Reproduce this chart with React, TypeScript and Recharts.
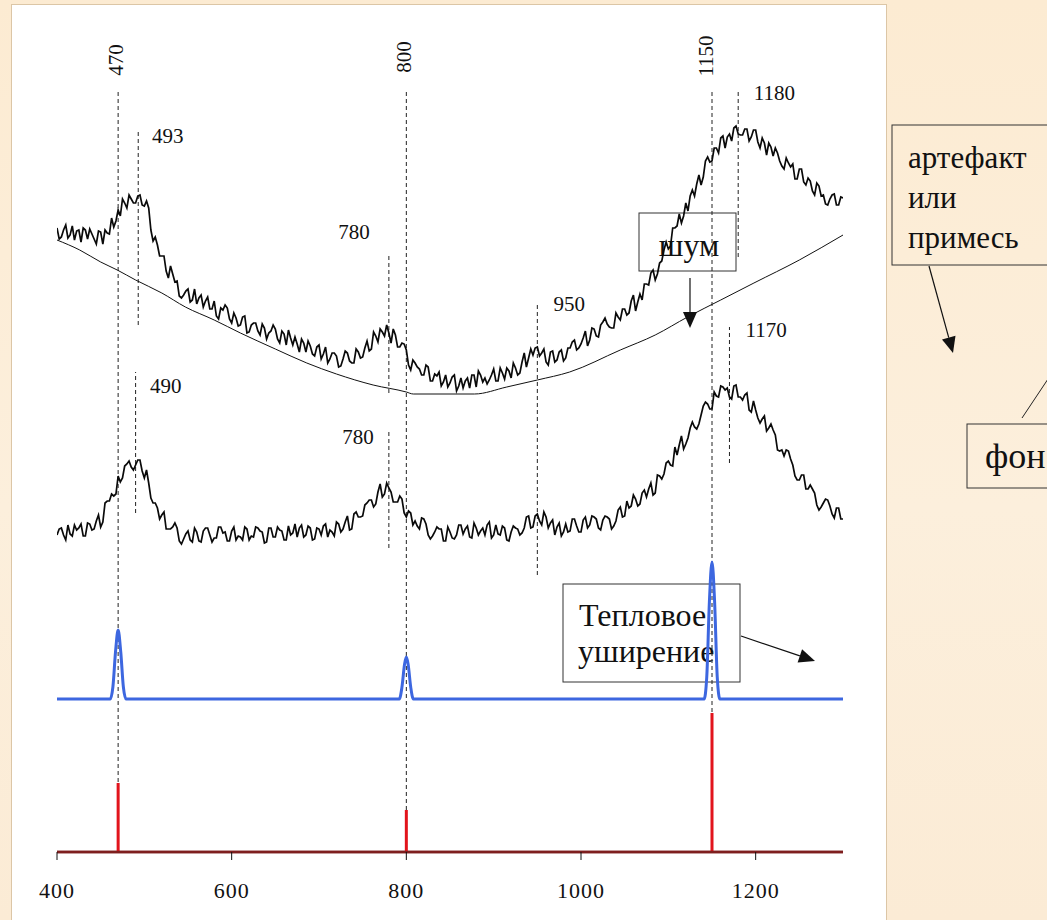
import React from 'react';
import { ComposedChart, Line, XAxis, YAxis, ReferenceLine, ReferenceDot } from 'recharts';

// Raman-like spectra. Samples on grid A: 400, 405, ... 1300; grid B: 402.5, 407.5, ... 1297.5
const X_START = 400;
const X_STEP = 5;

// upper trace: spectrum with background
const upperGridA = [
  624, 615, 627, 617, 612, 622, 624, 613, 618, 608,
  620, 622, 618, 625, 642, 653, 644, 653, 649, 657,
  646, 644, 611, 607, 596, 581, 586, 570, 556, 557,
  563, 552, 548, 557, 551, 543, 551, 533, 542, 544,
  529, 534, 527, 536, 520, 529, 521, 528, 513, 521,
  523, 509, 518, 522, 507, 508, 513, 500, 506, 496,
  507, 498, 489, 499, 496, 486, 501, 491, 489, 500,
  495, 511, 503, 516, 523, 516, 519, 523, 505, 509,
  502, 482, 489, 483, 477, 485, 471, 476, 466, 477,
  469, 477, 466, 464, 474, 477, 465, 477, 474, 472,
  483, 471, 479, 484, 474, 484, 479, 499, 494, 497,
  505, 499, 490, 500, 490, 500, 491, 504, 510, 502,
  508, 521, 512, 523, 515, 530, 528, 524, 539, 532,
  543, 539, 557, 550, 552, 568, 579, 572, 589, 602,
  603, 624, 626, 629, 649, 656, 656, 677, 675, 695,
  691, 704, 714, 704, 718, 724, 718, 717, 723, 715,
  722, 704, 709, 709, 696, 699, 686, 694, 685, 673,
  683, 670, 674, 661, 669, 656, 648, 653, 658, 647,
  654,
];
const upperGridB = [
  613, 622, 614, 626, 621, 610, 622, 623, 613, 621,
  608, 619, 634, 631, 636, 649, 657, 649, 656, 647,
  651, 622, 615, 596, 596, 574, 578, 571, 554, 561,
  550, 563, 554, 545, 555, 543, 536, 544, 547, 533,
  539, 526, 535, 519, 527, 529, 517, 524, 519, 527,
  513, 521, 507, 514, 515, 500, 509, 511, 498, 505,
  493, 505, 493, 499, 485, 493, 499, 489, 503, 494,
  504, 501, 520, 510, 520, 527, 509, 517, 505, 508,
  487, 492, 485, 477, 487, 471, 478, 480, 470, 465,
  475, 461, 474, 471, 464, 477, 481, 470, 468, 477,
  471, 484, 473, 481, 489, 477, 490, 485, 503, 504,
  496, 503, 487, 501, 492, 502, 494, 504, 512, 504,
  514, 506, 524, 516, 527, 534, 525, 524, 535, 543,
  537, 551, 541, 558, 568, 567, 582, 578, 591, 610,
  606, 624, 638, 636, 641, 662, 668, 667, 691, 690,
  704, 699, 716, 715, 711, 726, 717, 723, 711, 722,
  710, 714, 697, 705, 704, 691, 683, 689, 688, 673,
  683, 667, 671, 657, 666, 657, 647, 657, 647, 655,
];

// middle trace: spectrum after background subtraction
const lowerGridA = [
  317, 324, 312, 318, 327, 324, 316, 329, 322, 331,
  325, 349, 351, 356, 376, 374, 388, 385, 387, 392,
  374, 369, 349, 344, 337, 323, 323, 329, 311, 313,
  321, 310, 320, 310, 324, 317, 314, 325, 319, 311,
  321, 312, 315, 325, 312, 315, 324, 320, 310, 324,
  315, 322, 312, 326, 319, 315, 327, 317, 324, 313,
  323, 326, 315, 320, 330, 320, 330, 322, 338, 335,
  336, 349, 352, 348, 368, 358, 364, 350, 350, 353,
  335, 339, 331, 323, 333, 317, 316, 325, 323, 311,
  320, 313, 327, 318, 326, 314, 324, 321, 317, 330,
  317, 318, 326, 312, 320, 324, 317, 324, 336, 325,
  338, 327, 335, 329, 317, 329, 320, 320, 333, 326,
  320, 335, 327, 335, 324, 332, 335, 323, 331, 345,
  336, 344, 357, 346, 359, 355, 369, 359, 376, 378,
  391, 386, 397, 416, 408, 424, 425, 428, 446, 448,
  443, 456, 466, 462, 455, 466, 455, 452, 459, 440,
  442, 429, 436, 424, 422, 402, 402, 402, 393, 376,
  372, 377, 363, 363, 347, 345, 353, 346, 334, 344,
  333,
];
const lowerGridB = [
  323, 317, 327, 316, 322, 328, 316, 328, 323, 337,
  330, 351, 358, 358, 370, 386, 391, 382, 392, 381,
  382, 354, 349, 333, 340, 323, 325, 324, 308, 318,
  312, 324, 311, 321, 324, 310, 314, 325, 320, 311,
  325, 316, 312, 323, 316, 325, 321, 309, 324, 315,
  325, 321, 312, 317, 328, 324, 315, 326, 312, 324,
  317, 328, 322, 316, 328, 323, 336, 323, 340, 335,
  347, 352, 345, 360, 355, 369, 360, 350, 356, 339,
  341, 327, 326, 334, 328, 313, 320, 323, 311, 325,
  314, 317, 327, 323, 315, 329, 317, 324, 327, 314,
  327, 317, 324, 311, 326, 323, 319, 335, 324, 336,
  331, 340, 324, 332, 325, 316, 328, 321, 333, 320,
  332, 324, 336, 333, 322, 336, 333, 326, 342, 335,
  351, 346, 353, 348, 362, 363, 357, 377, 373, 389,
  387, 405, 407, 403, 414, 430, 423, 437, 450, 443,
  460, 455, 465, 464, 453, 467, 455, 457, 442, 451,
  434, 433, 421, 428, 417, 401, 396, 401, 387, 372,
  377, 363, 367, 359, 342, 349, 352, 338, 344, 333,
];

// smooth background ("фон")
const backgroundX = [400, 426, 450, 469, 490, 520, 547, 580, 610, 650, 686, 720, 762, 800, 808, 878, 915, 950, 987, 1045, 1085, 1122, 1160, 1198, 1250, 1300];
const backgroundV = [612, 602, 590, 582, 572, 559, 545, 532, 519, 503, 489, 478, 467, 460, 458, 458, 465, 472, 480, 502, 517, 535, 552, 569, 592, 617];

// thermally broadened lines (blue)
const thermalX = [400, 461, 464, 467, 470, 473, 476, 479, 792, 795, 798, 800, 802, 805, 808, 1141, 1144, 1147, 1150, 1153, 1156, 1159, 1300];
const thermalV = [153, 153, 165, 200, 222, 200, 165, 153, 153, 165, 188, 195, 188, 165, 153, 153, 175, 250, 290, 250, 175, 153, 153];

// ideal line spectrum (red sticks)
const stickX = [470, 800, 1150];
const stickV = [69, 42, 139];

// dashed peak markers
const markX = [470, 800, 1150, 493, 780, 490, 780, 950, 1180, 1170];
const markFrom = [0, 0, 0, 527, 459, 339, 304, 277, 595, 389];
const markTo = [760, 760, 760, 722, 597, 480, 422, 550, 762, 525];

// peak labels
const labelText = ['470', '800', '1150', '493', '780', '490', '780', '950', '1180', '1170'];
const labelX = [467.6, 797.1, 1143.2, 508.9, 722, 506.6, 726.6, 968.4, 1197.7, 1188.5];
const labelV = [792, 795, 796, 716.5, 620.5, 466.5, 415, 548.5, 759, 522.5];
const labelRotated = [true, true, true, false, false, false, false, false, false, false];

const xTicks = [400, 600, 800, 1000, 1200];

const mergeGrids = (a: number[], b: number[]) => {
  const out: { x: number; v: number }[] = [];
  a.forEach((v, i) => {
    out.push({ x: X_START + i * X_STEP, v });
    if (i < b.length) out.push({ x: X_START + i * X_STEP + X_STEP / 2, v: b[i] });
  });
  return out;
};
const pairData = (xs: number[], vs: number[]) => xs.map((x, i) => ({ x, v: vs[i] }));
const stickData: { x: number; v: number | null }[] = [];
stickX.forEach((x, i) => {
  stickData.push({ x, v: 0 }, { x, v: stickV[i] }, { x, v: null });
});
const baselineData = [{ x: 400, v: 0 }, { x: 1300, v: 0 }];

const FONT = '"Liberation Serif", "Times New Roman", serif';

const arrowHead = (x1: number, y1: number, x2: number, y2: number, len = 16, half = 7) => {
  const dx = x2 - x1;
  const dy = y2 - y1;
  const l = Math.hypot(dx, dy);
  const ux = dx / l;
  const uy = dy / l;
  const bx = x2 - ux * len;
  const by = y2 - uy * len;
  const px = -uy * half;
  const py = ux * half;
  return {
    line: { x1, y1, x2: bx, y2: by },
    pts: `${x2},${y2} ${bx + px},${by + py} ${bx - px},${by - py}`,
  };
};

const Arrow = ({ x1, y1, x2, y2 }: { x1: number; y1: number; x2: number; y2: number }) => {
  const a = arrowHead(x1, y1, x2, y2);
  return (
    <g>
      <line {...a.line} stroke="#111" strokeWidth={1.2} />
      <polygon points={a.pts} fill="#111" />
    </g>
  );
};

export default function App() {
  return (
    <div
      style={{
        position: 'absolute',
        left: 0,
        top: 0,
        width: 1047,
        height: 920,
        overflow: 'hidden',
        background: 'linear-gradient(180deg, #FCEBD2 0%, #FCEFDC 55%, #FBEBD5 100%)',
        fontFamily: FONT,
      }}
    >
      {/* white slide panel */}
      <div
        style={{
          position: 'absolute',
          left: 11,
          top: 4,
          width: 876,
          height: 930,
          background: '#FFFFFF',
          border: '1px solid #DCC6A6',
          boxSizing: 'border-box',
        }}
      />
      {/* annotations (under the traces) */}
      <svg width={1047} height={920} style={{ position: 'absolute', left: 0, top: 0 }}>
        <g fontFamily={FONT} fill="#111">
          <rect x={639} y={213} width={97} height={58} fill="none" stroke="#333" strokeWidth={1} />
          <text x={689} y={256} fontSize={32} textAnchor="middle">шум</text>
          <Arrow x1={690} y1={278} x2={690} y2={328} />

          <rect x={563} y={584} width={177} height={98} fill="none" stroke="#333" strokeWidth={1} />
          <text x={579} y={626} fontSize={32}>Тепловое</text>
          <text x={578} y={662} fontSize={32}>уширение</text>
          <Arrow x1={741} y1={636} x2={815} y2={661} />

          <rect x={892} y={125} width={200} height={140} fill="none" stroke="#333" strokeWidth={1} />
          <text x={908} y={168} fontSize={31}>артефакт</text>
          <text x={908} y={208} fontSize={31}>или</text>
          <text x={908} y={248} fontSize={31}>примесь</text>
          <Arrow x1={929} y1={266} x2={953} y2={353} />

          <rect x={967} y={424} width={150} height={64} fill="none" stroke="#333" strokeWidth={1} />
          <text x={985} y={468} fontSize={36}>фон</text>
          <line x1={1022} y1={418} x2={1054} y2={370} stroke="#222" strokeWidth={1} />
        </g>
      </svg>
      <div style={{ position: 'absolute', left: 0, top: 0 }}>
        <ComposedChart
          width={1047}
          height={920}
          margin={{ top: 20, right: 204, bottom: 0, left: 57 }}
        >
          <XAxis
            type="number"
            dataKey="x"
            domain={[400, 1300]}
            ticks={xTicks}
            allowDataOverflow
            height={68}
            tickSize={8}
            tickMargin={22}
            axisLine={{ stroke: '#7E1E1E', strokeWidth: 2.5 }}
            tickLine={{ stroke: '#111', strokeWidth: 1 }}
            tick={{ fontSize: 22, fill: '#111', fontFamily: FONT, letterSpacing: 1 }}
          />
          <YAxis
            type="number"
            dataKey="v"
            domain={[0, 832]}
            width={0}
            tick={false}
            tickLine={false}
            axisLine={{ stroke: '#111', strokeWidth: 1.2 }}
          />
          {markX.map((x, i) => (
            <ReferenceLine
              key={`m${i}`}
              segment={[{ x, y: markFrom[i] }, { x, y: markTo[i] }]}
              stroke="#222"
              strokeWidth={1}
              strokeDasharray="4 3"
            />
          ))}
          <Line
            data={pairData(backgroundX, backgroundV)}
            dataKey="v"
            type="monotone"
            stroke="#111"
            strokeWidth={1}
            dot={false}
            activeDot={false}
            isAnimationActive={false}
          />
          <Line
            data={mergeGrids(upperGridA, upperGridB)}
            dataKey="v"
            type="linear"
            stroke="#0A0A0A"
            strokeWidth={1.7}
            dot={false}
            activeDot={false}
            isAnimationActive={false}
          />
          <Line
            data={mergeGrids(lowerGridA, lowerGridB)}
            dataKey="v"
            type="linear"
            stroke="#0A0A0A"
            strokeWidth={1.7}
            dot={false}
            activeDot={false}
            isAnimationActive={false}
          />
          <Line
            data={pairData(thermalX, thermalV)}
            dataKey="v"
            type="monotone"
            stroke="#3D67E0"
            strokeWidth={3}
            dot={false}
            activeDot={false}
            isAnimationActive={false}
          />
          <Line
            data={baselineData}
            dataKey="v"
            type="linear"
            stroke="#7E1E1E"
            strokeWidth={2.5}
            dot={false}
            activeDot={false}
            isAnimationActive={false}
          />
          <Line
            data={stickData}
            dataKey="v"
            type="linear"
            stroke="#E2141C"
            strokeWidth={3}
            dot={false}
            activeDot={false}
            isAnimationActive={false}
          />
          {labelText.map((t, i) => (
            <ReferenceDot
              key={`l${i}`}
              x={labelX[i]}
              y={labelV[i]}
              r={0}
              shape={(p: any) => (
                <text
                  x={p.cx}
                  y={p.cy}
                  fontSize={21}
                  fontFamily={FONT}
                  fill="#111"
                  textAnchor={labelRotated[i] ? 'middle' : 'start'}
                  dominantBaseline="central"
                  transform={labelRotated[i] ? `rotate(-90 ${p.cx} ${p.cy})` : undefined}
                >
                  {t}
                </text>
              )}
            />
          ))}
        </ComposedChart>
      </div>
    </div>
  );
}
